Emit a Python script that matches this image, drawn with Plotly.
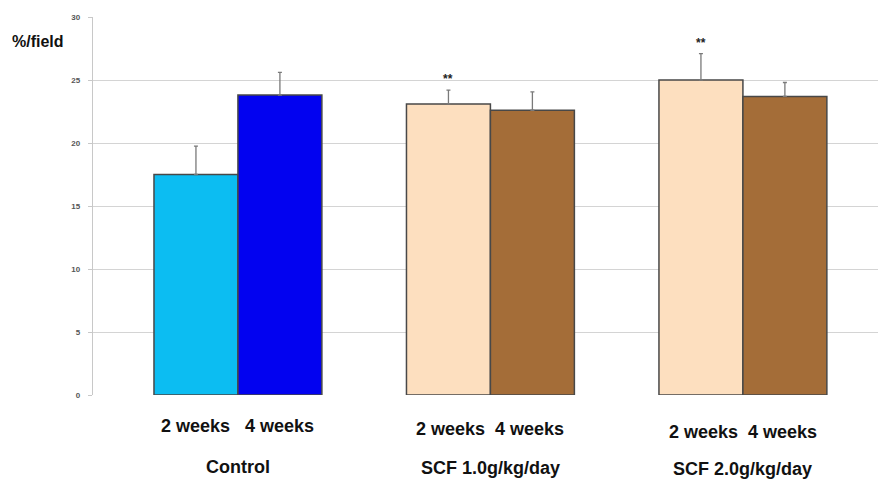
import plotly.graph_objects as go

groups = ["Control", "SCF 1.0g/kg/day", "SCF 2.0g/kg/day"]
week_labels = ["2 weeks   4 weeks", "2 weeks  4 weeks", "2 weeks  4 weeks"]
weeks_2 = [17.5, 23.1, 25.0]
weeks_4 = [23.8, 22.6, 23.7]
err_2 = [2.25, 1.1, 2.1]
err_4 = [1.8, 1.45, 1.1]
colors_2 = ["#0CBDF2", "#FDDFBF", "#FDDFBF"]
colors_4 = ["#0202F0", "#A46D38", "#A46D38"]
stars_2 = ["", "**", "**"]
y_ticks = [0, 5, 10, 15, 20, 25, 30]

x = list(range(len(groups)))
label_font = dict(family="Liberation Sans, Arial", size=18, color="#111111")

fig = go.Figure()
fig.add_trace(go.Bar(
    x=x, y=weeks_2, name="2 weeks",
    marker=dict(color=colors_2, line=dict(color="#484848", width=1.5)),
    error_y=dict(type="data", symmetric=False, array=err_2,
                 arrayminus=[0]*3, color="#7A7A7A", thickness=1.3, width=2),
))
fig.add_trace(go.Bar(
    x=x, y=weeks_4, name="4 weeks",
    marker=dict(color=colors_4, line=dict(color="#484848", width=1.5)),
    error_y=dict(type="data", symmetric=False, array=err_4,
                 arrayminus=[0]*3, color="#7A7A7A", thickness=1.3, width=2),
))

week_y = [-0.082, -0.090, -0.098]
name_y = [-0.191, -0.193, -0.196]
annotations = []
for i, g in enumerate(groups):
    annotations.append(dict(x=i, y=week_y[i], xref="x", yref="paper",
                            text="<b>" + week_labels[i].replace(" ", "&nbsp;") + "</b>",
                            showarrow=False, font=label_font,
                            xanchor="center", yanchor="middle"))
    annotations.append(dict(x=i, y=name_y[i], xref="x", yref="paper",
                            text="<b>" + g + "</b>", showarrow=False, font=label_font,
                            xanchor="center", yanchor="middle"))
    if stars_2[i]:
        annotations.append(dict(x=i - 0.1667, y=weeks_2[i] + err_2[i], xref="x", yref="y",
                                text="<b>" + stars_2[i] + "</b>", showarrow=False,
                                font=dict(family="Liberation Sans", size=12, color="#222222"),
                                xanchor="center", yanchor="bottom", yshift=2))
annotations.append(dict(x=-0.1057, y=0.936, xref="paper", yref="paper",
                        text="<b>%/field</b>", showarrow=False,
                        font=dict(family="Liberation Sans, Arial", size=16, color="#111111"),
                        xanchor="left", yanchor="middle"))

fig.update_layout(
    width=878, height=481,
    margin=dict(l=93, r=0, t=17, b=86),
    plot_bgcolor="white", paper_bgcolor="white",
    barmode="group", bargap=0.335, bargroupgap=0,
    showlegend=False,
    annotations=annotations,
    xaxis=dict(range=[-0.574, 2.535], showticklabels=False, showgrid=False,
               zeroline=False, showline=False, ticks=""),
    yaxis=dict(range=[0, 30], tickvals=y_ticks, showgrid=True, gridcolor="#D4D4D4",
               gridwidth=1.3, zeroline=False, showline=True, linecolor="#C8C8C8",
               linewidth=1.3, ticks="outside", ticklen=4, tickcolor="#C8C8C8",
               ticklabelstandoff=6,
               tickfont=dict(family="Liberation Sans", size=8, color="#555555", weight="bold")),
)

fig.write_html("out.html", config={"displayModeBar": False},
               post_script="document.body.style.margin='0';document.body.style.overflow='hidden';")
